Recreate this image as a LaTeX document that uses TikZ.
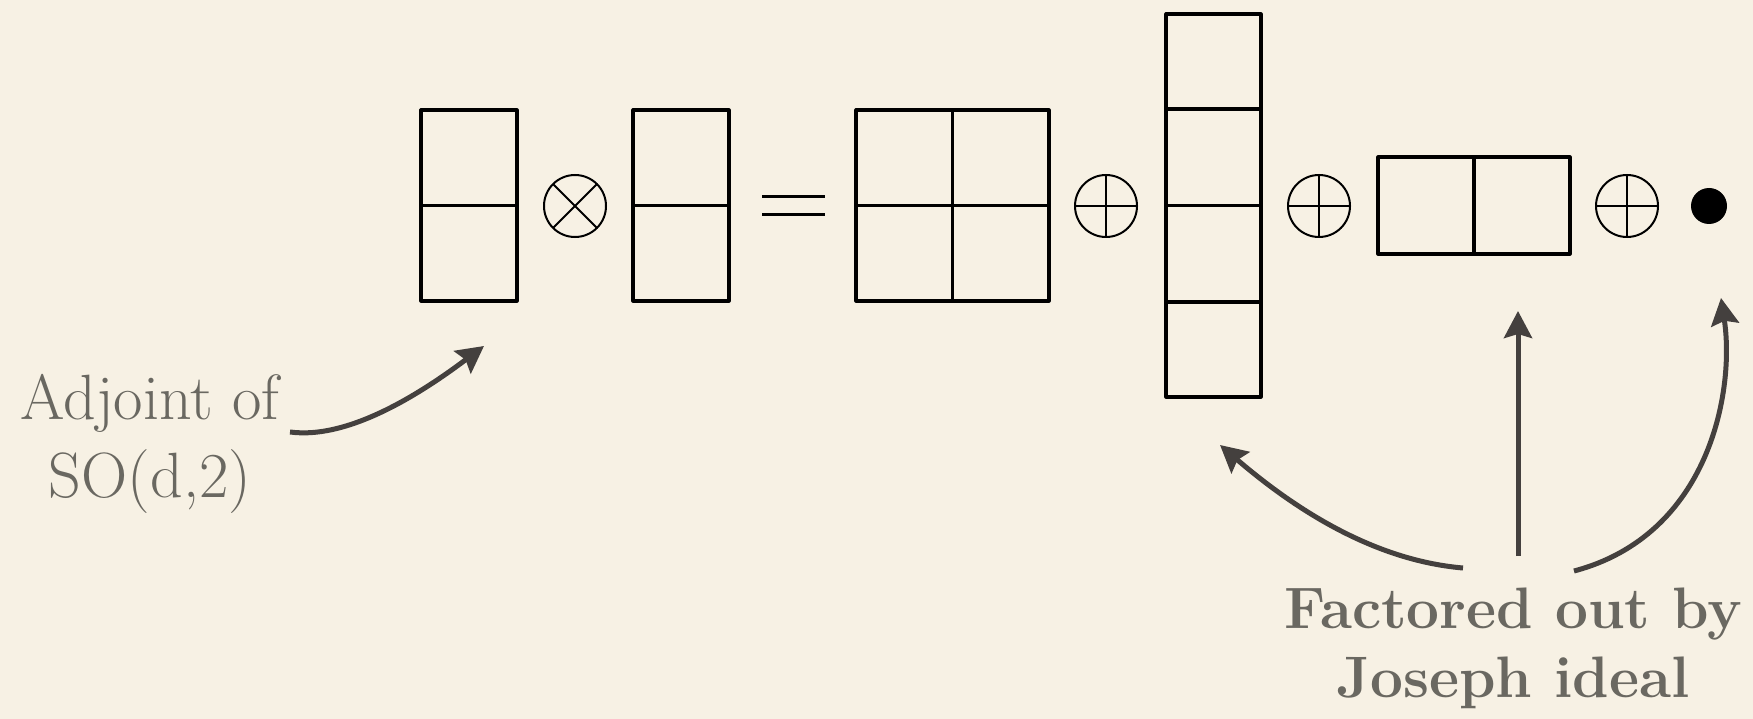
\documentclass[tikz,border=0pt]{standalone}
\usepackage{fontspec}
\usetikzlibrary{arrows.meta}
\definecolor{bg}{RGB}{247,241,228}
\definecolor{txt}{RGB}{106,104,97}
\definecolor{arr}{RGB}{68,64,62}
\begin{document}
\begin{tikzpicture}[x=1pt,y=-1pt,
  ydbox/.style={draw=black, line width=3.2pt, line join=round, rectangle, inner sep=0pt, outer sep=0pt},
  ydline/.style={draw=black, line width=3.2pt},
  opcirc/.style={draw=black, line width=2pt, circle, minimum size=62pt, inner sep=0pt, outer sep=0pt},
  opline/.style={draw=black, line width=2pt},
  eqline/.style={draw=black, line width=3pt},
  lbl/.style={text=txt, align=center, inner sep=0pt},
  callout/.style={draw=arr, line width=5pt, -{Stealth[length=27pt,width=28pt,inset=4pt]}}
]
\fill[bg] (0,0) rectangle (1753,719);
\useasboundingbox (0,0) rectangle (1753,719);

% first factor
\node[ydbox, minimum width=96pt, minimum height=191pt] (ya) at (469,205.5) {};
\draw[ydline] (ya.west) -- (ya.east);
% tensor product
\node[opcirc] (ot) at (575,206) {};
\draw[opline] (ot.north west) -- (ot.south east) (ot.north east) -- (ot.south west);
% second factor
\node[ydbox, minimum width=96pt, minimum height=191pt] (yb) at (681,205.5) {};
\draw[ydline] (yb.west) -- (yb.east);
% equals
\draw[eqline] (762,197) -- (825,197) (762,215) -- (825,215);
% 2x2
\node[ydbox, minimum width=193pt, minimum height=191pt] (yc) at (952.5,205.5) {};
\draw[ydline] (yc.west) -- (yc.east) (yc.north) -- (yc.south);
% oplus 1
\node[opcirc] (op1) at (1106,206) {};
\draw[opline] (op1.north) -- (op1.south) (op1.west) -- (op1.east);
% column of four
\node[ydbox, minimum width=95pt, minimum height=383pt] (yd) at (1213.5,205.5) {};
\draw[ydline] (1166,109) -- (1261,109) (yd.west) -- (yd.east) (1166,302) -- (1261,302);
% oplus 2
\node[opcirc] (op2) at (1319,206) {};
\draw[opline] (op2.north) -- (op2.south) (op2.west) -- (op2.east);
% row of two
\node[ydbox, minimum width=192pt, minimum height=97pt] (ye) at (1474,205.5) {};
\draw[ydline] (ye.north) -- (ye.south);
% oplus 3
\node[opcirc] (op3) at (1627,206) {};
\draw[opline] (op3.north) -- (op3.south) (op3.west) -- (op3.east);
% singlet
\node[circle, fill=black, minimum size=36pt, inner sep=0pt] (dot) at (1709,206) {};

% labels
\node[lbl, font=\fontsize{64}{78}\selectfont] (adj) at (150,444) {Adjoint of\\SO(d,2)};
\node[lbl, font=\bfseries\fontsize{58.5}{69}\selectfont] (jos) at (1513,648) {Factored out by\\Joseph ideal};

% arrows
\coordinate (adjS) at (290,432);
\coordinate (adjT) at (484,346);
\draw[callout] (adjS) .. controls (350,440) and (424,391) .. (adjT);

\coordinate (jL) at (1463,568);
\coordinate (jLT) at (1220,445);
\draw[callout] (jL) .. controls (1370,560) and (1290,505) .. (jLT);

\coordinate (jM) at (1518,556);
\coordinate (jMT) at (1518,311);
\draw[callout] (jM) -- (jMT);

\coordinate (jR) at (1574,571);
\coordinate (jRT) at (1721,298);
\draw[callout] (jR) .. controls (1710,535) and (1735,390) .. (jRT);
\end{tikzpicture}
\end{document}
